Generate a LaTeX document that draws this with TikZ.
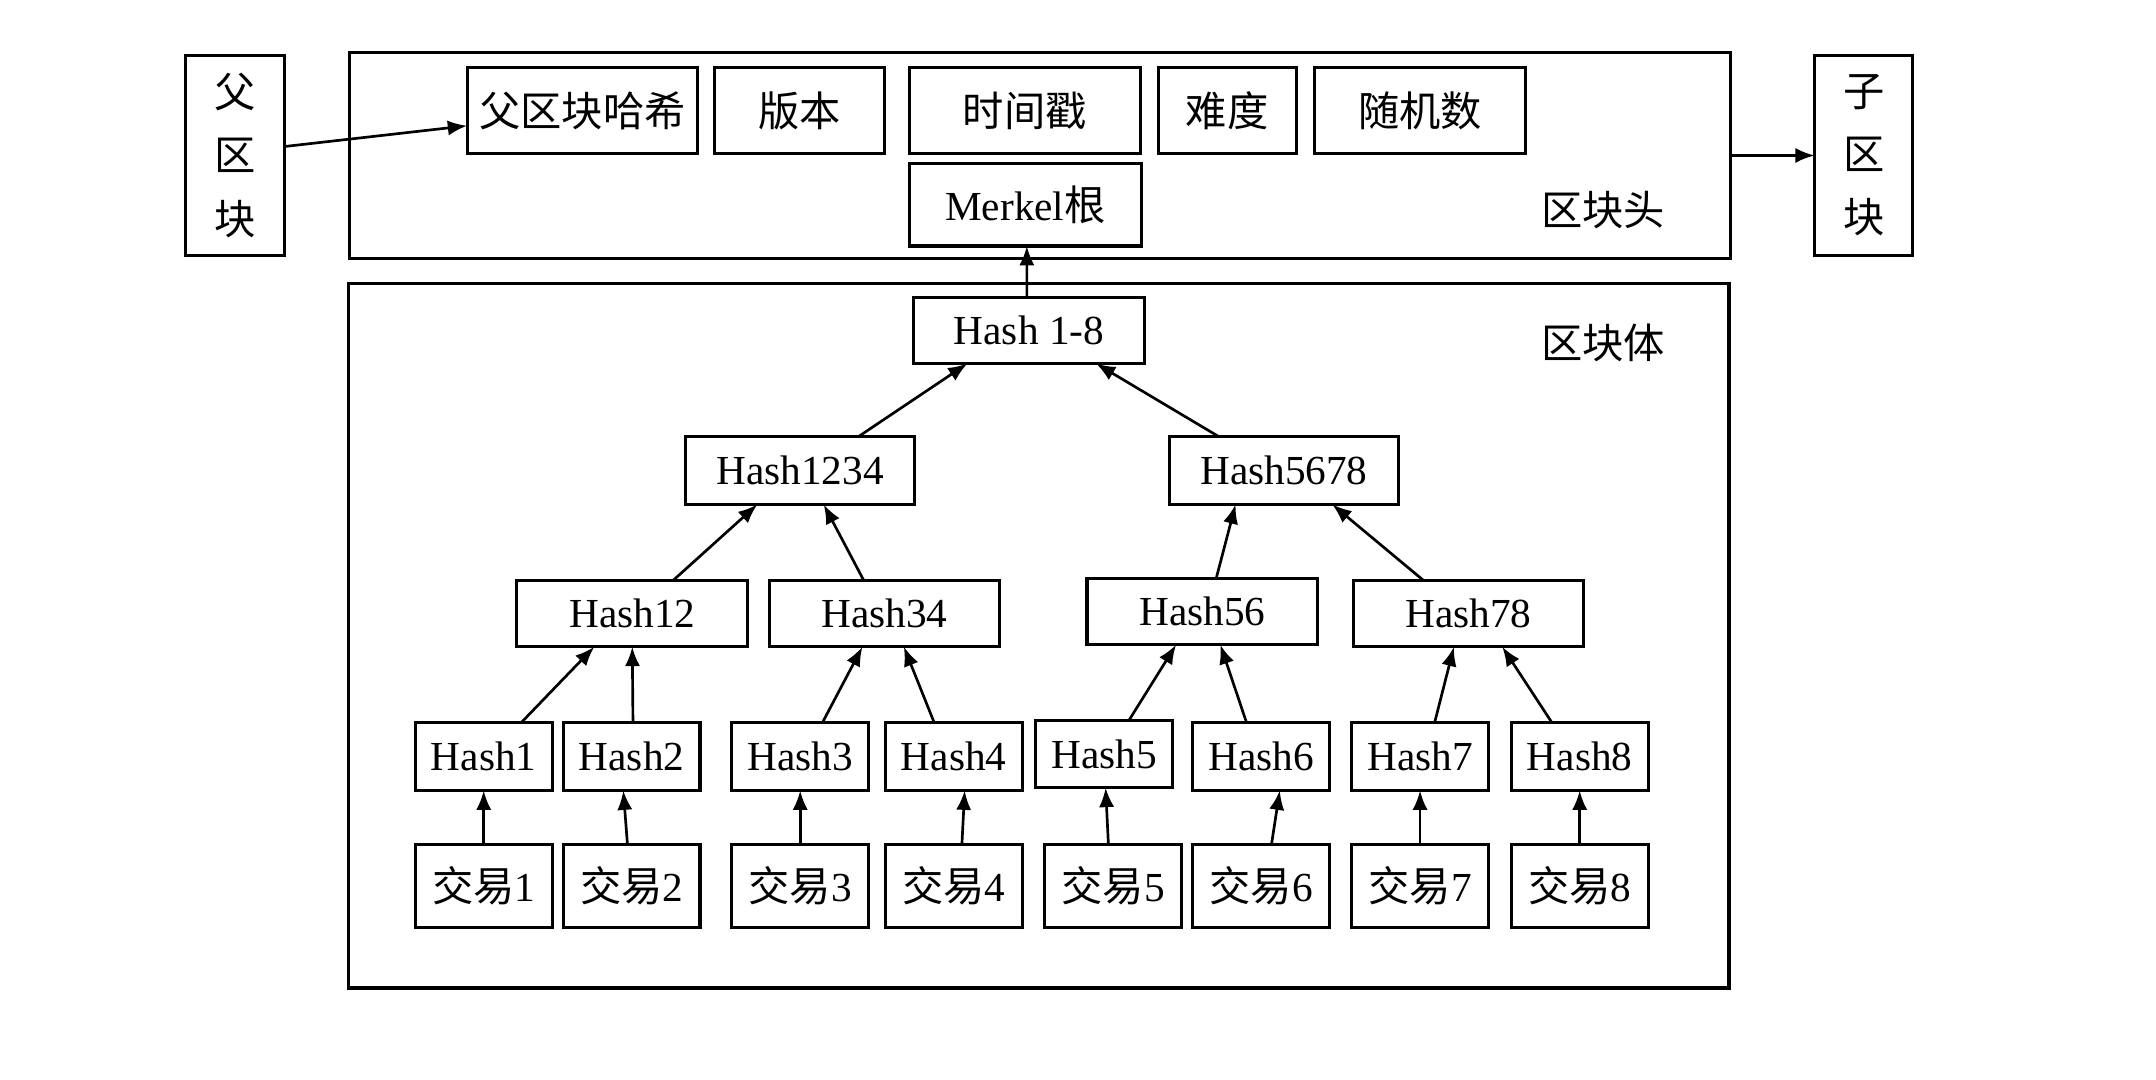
\documentclass[tikz,border=0pt]{standalone}
\usepackage{fontspec}
\setmainfont{Liberation Serif}
\newfontfamily\cjk{Noto Sans CJK SC}
\usetikzlibrary{arrows.meta}
\begin{document}
\begin{tikzpicture}[x=0.02cm, y=-0.02cm, line width=1.25pt,
  box/.style={draw, rectangle, outer sep=0pt, inner sep=1pt, font=\fontsize{17}{20}\selectfont},
  frame/.style={draw, rectangle, outer sep=0pt, line width=1.4pt},
  label/.style={font=\fontsize{17}{20}\selectfont},
  arr/.style={line width=1.1pt, -{Latex[length=0.28cm, width=0.22cm]}}]
\useasboundingbox (0,0) rectangle (1560,781);
% block header
\node[frame, minimum width=19.98cm, minimum height=2.98cm] (hdr) at (752.5,112.5){};
\node[box, minimum width=1.44cm, minimum height=2.9cm, align=center, font=\fontsize{17}{24}\selectfont\cjk] (fb) at (170,112.5){父\\[2pt]区\\[2pt]块};
\node[box, minimum width=1.42cm, minimum height=2.9cm, align=center, font=\fontsize{17}{24}\selectfont\cjk] (cb) at (1348.5,112.5){子\\[2pt]区\\[2pt]块};
\node[box, minimum width=3.34cm, minimum height=1.24cm] (phash) at (421.5,80){\cjk 父区块哈希};
\node[box, minimum width=2.46cm, minimum height=1.24cm] (ver) at (578.5,80){\cjk 版本};
\node[box, minimum width=3.34cm, minimum height=1.24cm] (ts) at (741.5,80){\cjk 时间戳};
\node[box, minimum width=2.0cm, minimum height=1.24cm] (diff) at (888,80){\cjk 难度};
\node[box, minimum width=3.06cm, minimum height=1.24cm] (nonce) at (1027.5,80){\cjk 随机数};
\node[box, minimum width=3.36cm, minimum height=1.2cm] (mroot) at (742,148){Merkel{\cjk 根}};
\node[label] (hdrlabel) at (1160,152){\cjk 区块头};
\draw[arr] ([yshift=0.13cm]fb.east) -- ([yshift=-0.22cm]phash.west);
\draw[arr] (hdr.east) -- (cb.west);
% block body
\node[frame, minimum width=19.98cm, minimum height=10.2cm] (body) at (751.5,460){};
\node[label] (bodylabel) at (1160,248){\cjk 区块体};
\node[box, minimum width=3.34cm, minimum height=0.96cm] (h18) at (744.5,239){Hash 1-8};
\node[box, minimum width=3.32cm, minimum height=0.98cm] (h1234) at (579,340.5){Hash1234};
\node[box, minimum width=3.32cm, minimum height=0.98cm] (h5678) at (929,340.5){Hash5678};
\node[box, minimum width=3.34cm, minimum height=0.96cm] (h12) at (457.5,444){Hash12};
\node[box, minimum width=3.34cm, minimum height=0.96cm] (h34) at (640,444){Hash34};
\node[box, minimum width=3.34cm, minimum height=0.96cm] (h56) at (870,442.5){Hash56};
\node[box, minimum width=3.34cm, minimum height=0.96cm] (h78) at (1062.5,444){Hash78};
\foreach \i/\x/\y in {1/350/547.5, 2/457/547.5, 3/579/547.5, 4/690/547.5, 5/799/545.5, 6/912.5/547.5, 7/1027.5/547.5, 8/1143/547.5}
  \node[box, minimum width=1.98cm, minimum height=0.98cm] (h\i) at (\x,\y){Hash\i};
\foreach \i/\x in {1/350, 2/457, 3/579, 4/690, 5/805.5, 6/912.5, 7/1027.5, 8/1143}
  \node[box, minimum width=1.98cm, minimum height=1.2cm] (tx\i) at (\x,641){{\cjk 交易}\i};
% transactions to leaf hashes
\foreach \i/\a/\b in {1/0/0, 2/-0.06/-0.12, 3/0/0, 4/0.12/0.16, 5/-0.07/0.02, 6/0.15/0.27, 7/0/0, 8/0/0}
  \draw[arr] ([xshift=\a cm]tx\i.north) -- ([xshift=\b cm]h\i.south);
% hash tree
\draw[arr] ([xshift=0.54cm]h1.north) -- ([xshift=-0.55cm]h12.south);
\draw[arr] ([xshift=0.02cm]h2.north) -- ([xshift=0cm]h12.south);
\draw[arr] ([xshift=0.32cm]h3.north) -- ([xshift=-0.32cm]h34.south);
\draw[arr] ([xshift=-0.28cm]h4.north) -- ([xshift=0.28cm]h34.south);
\draw[arr] ([xshift=0.36cm]h5.north) -- ([xshift=-0.38cm]h56.south);
\draw[arr] ([xshift=-0.21cm]h6.north) -- ([xshift=0.26cm]h56.south);
\draw[arr] ([xshift=0.21cm]h7.north) -- ([xshift=-0.21cm]h78.south);
\draw[arr] ([xshift=-0.4cm]h8.north) -- ([xshift=0.49cm]h78.south);
\draw[arr] ([xshift=0.59cm]h12.north) -- ([xshift=-0.62cm]h1234.south);
\draw[arr] ([xshift=-0.3cm]h34.north) -- ([xshift=0.34cm]h1234.south);
\draw[arr] ([xshift=0.2cm]h56.north) -- ([xshift=-0.7cm]h5678.south);
\draw[arr] ([xshift=-0.65cm]h78.north) -- ([xshift=0.7cm]h5678.south);
\draw[arr] ([xshift=0.84cm]h1234.north) -- ([xshift=-0.89cm]h18.south);
\draw[arr] ([xshift=-0.94cm]h5678.north) -- ([xshift=0.97cm]h18.south);
\draw[arr] ([xshift=-0.03cm]h18.north) -- ([xshift=0.02cm]mroot.south);
\end{tikzpicture}
\end{document}
